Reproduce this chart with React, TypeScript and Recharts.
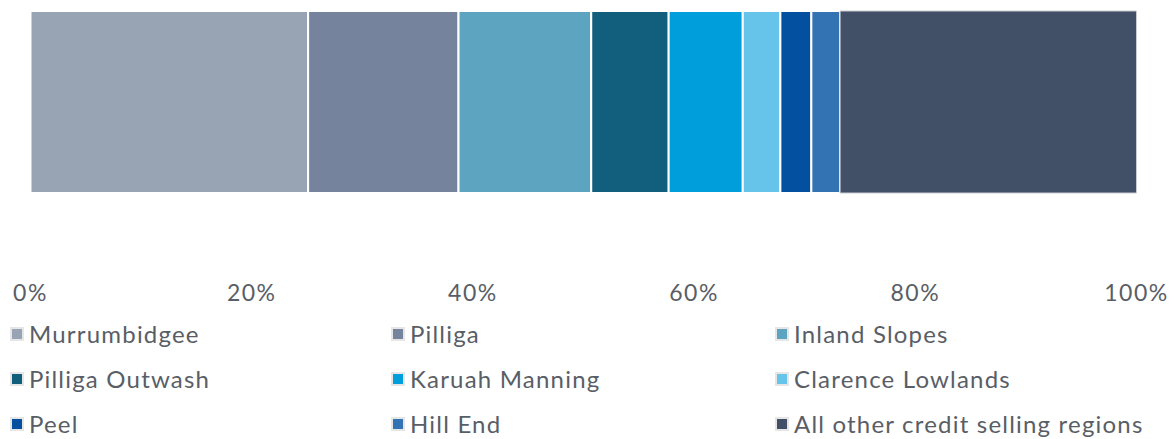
import { BarChart, Bar, XAxis, YAxis, Legend } from 'recharts';

const regions = [
  'Murrumbidgee',
  'Pilliga',
  'Inland Slopes',
  'Pilliga Outwash',
  'Karuah Manning',
  'Clarence Lowlands',
  'Peel',
  'Hill End',
  'All other credit selling regions',
];

// share of credits (%)
const shares = [25.1, 13.6, 12.0, 7.0, 6.7, 3.4, 2.8, 2.6, 26.8];

const colors = [
  '#98a3b4',
  '#75849c',
  '#5da4c1',
  '#115e7d',
  '#009fdb',
  '#66c4ea',
  '#0350a0',
  '#3473b3',
  '#414f67',
];

const xTicks = [0, 20, 40, 60, 80, 100];

const keyOf = (i: number) => `r${i}`;

const row: Record<string, string | number> = { name: 'all' };
regions.forEach((_, i) => {
  row[keyOf(i)] = shares[i];
});
const data = [row];

const FONT = 'Lato, "Open Sans", sans-serif';
const TEXT = '#595e66';

function GridLegend() {
  return (
    <div
      style={{
        display: 'grid',
        gridTemplateColumns: '381px 384px 390px',
        rowGap: 12,
        fontFamily: FONT,
        fontSize: 24,
        letterSpacing: 1.2,
        color: TEXT,
        lineHeight: '33px',
      }}
    >
      {regions.map((name, i) => (
        <div key={name} style={{ display: 'flex', alignItems: 'center', whiteSpace: 'nowrap' }}>
          <span
            style={{
              width: 10,
              height: 10,
              background: colors[i],
              border: '2px solid #e6e6e6',
              marginRight: 5,
              flex: 'none',
            }}
          />
          {name}
        </div>
      ))}
    </div>
  );
}

export default function App() {
  return (
    <div style={{ position: 'absolute', left: 0, top: 0, background: '#fff' }}>
      <BarChart
        width={1175}
        height={439}
        data={data}
        layout="vertical"
        barCategoryGap={0}
        margin={{ top: 11, right: 38.5, left: 30.5, bottom: 216 }}
      >
        <XAxis
          type="number"
          domain={[0, 100]}
          ticks={xTicks}
          tickFormatter={(v: number) => `${v}%`}
          axisLine={false}
          tickLine={false}
          tickMargin={86}
          height={30}
          interval={0}
          tick={{ fill: TEXT, fontSize: 23, fontFamily: FONT, letterSpacing: 1.5 }}
        />
        <YAxis type="category" dataKey="name" hide />
        <Legend
          layout="horizontal"
          verticalAlign="middle"
          align="center"
          content={() => <GridLegend />}
          wrapperStyle={{ left: 10, top: 317, width: 1160 }}
        />
        {regions.map((name, i) => (
          <Bar
            key={name}
            dataKey={keyOf(i)}
            name={name}
            stackId="a"
            fill={colors[i]}
            stroke={i === regions.length - 1 ? '#c9ccd1' : '#ffffff'}
            strokeWidth={i === regions.length - 1 ? 1 : 2}
            isAnimationActive={false}
          />
        ))}
      </BarChart>
    </div>
  );
}
